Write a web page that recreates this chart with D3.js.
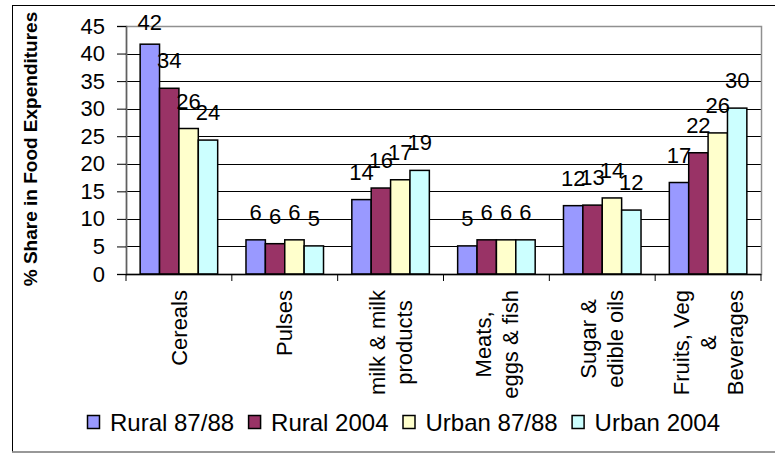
<!DOCTYPE html>
<html lang="en">
<head>
  <meta charset="UTF-8" />
  <title>Share in Food Expenditures</title>
  <script src="https://d3js.org/d3.v7.min.js"></script>
  <style>
    body {
      margin: 0;
      background: #fff;
      font-family: "Liberation Sans", Arial, sans-serif;
    }
    svg text {
      fill: #000;
    }
  </style>
</head>
<body>
  <svg id="chart" width="775" height="458"></svg>

  <script>
    // categories (each entry = lines of the rotated label)
    const categories = [
      ["Cereals"],
      ["Pulses"],
      ["milk & milk", "products"],
      ["Meats,", "eggs & fish"],
      ["Sugar &", "edible oils"],
      ["Fruits, Veg", "&", "Beverages"]
    ];
    const seriesNames = ["Rural 87/88", "Rural 2004", "Urban 87/88", "Urban 2004"];
    const seriesColors = ["#9999ff", "#993366", "#ffffcc", "#ccffff"];

    // values per series, in category order
    const rural8788 = [41.7, 6.2, 13.5, 5.1, 12.4, 16.6];
    const rural2004 = [33.7, 5.5, 15.6, 6.2, 12.5, 22.0];
    const urban8788 = [26.4, 6.2, 17.1, 6.2, 13.8, 25.6];
    const urban2004 = [24.3, 5.1, 18.8, 6.2, 11.6, 30.1];
    const seriesValues = [rural8788, rural2004, urban8788, urban2004];

    const yTicks = [0, 5, 10, 15, 20, 25, 30, 35, 40, 45];

    const svg = d3.select("#chart");
    const plot = { left: 126, right: 761, top: 26, bottom: 274 };

    // outer chart border
    svg.append("rect")
      .attr("x", 12.5).attr("y", 5.5)
      .attr("width", 775).attr("height", 446.5)
      .attr("fill", "#fff")
      .attr("stroke", "#000").attr("stroke-width", 1);
    svg.append("line")
      .attr("x1", 12).attr("x2", 775)
      .attr("y1", 452).attr("y2", 452)
      .attr("stroke", "#a0a0a0").attr("stroke-width", 1.5);

    const catKeys = categories.map(d => d.join(" "));
    const x0 = d3.scaleBand().domain(catKeys).range([plot.left, plot.right]);
    const x1 = d3.scaleBand().domain(seriesNames)
      .range([0, x0.bandwidth()])
      .paddingInner(0).paddingOuter(0.73);
    const y = d3.scaleLinear().domain([0, 45]).range([plot.bottom, plot.top]);

    // gridlines
    svg.append("g")
      .selectAll("line")
      .data(yTicks.filter(t => t > 0 && t < 45))
      .join("line")
      .attr("x1", plot.left).attr("x2", plot.right)
      .attr("y1", d => Math.round(y(d)) + 0.5).attr("y2", d => Math.round(y(d)) + 0.5)
      .attr("stroke", "#000").attr("stroke-width", 1);

    // plot area border
    svg.append("rect")
      .attr("x", plot.left + 0.5).attr("y", plot.top + 0.5)
      .attr("width", plot.right - plot.left).attr("height", plot.bottom - plot.top)
      .attr("fill", "none").attr("stroke", "#909090").attr("stroke-width", 1.5);

    // bars
    const groups = svg.append("g")
      .selectAll("g")
      .data(catKeys)
      .join("g")
      .attr("transform", d => `translate(${x0(d)},0)`);

    groups.selectAll("rect")
      .data((d, i) => seriesNames.map((s, j) => ({ s, j, v: seriesValues[j][i] })))
      .join("rect")
      .attr("x", d => x1(d.s))
      .attr("y", d => y(d.v))
      .attr("width", x1.bandwidth())
      .attr("height", d => y(0) - y(d.v))
      .attr("fill", d => seriesColors[d.j])
      .attr("stroke", "#000").attr("stroke-width", 1.5);

    // data labels
    groups.selectAll("text.val")
      .data((d, i) => seriesNames.map((s, j) => ({ s, j, v: seriesValues[j][i] })))
      .join("text")
      .attr("class", "val")
      .attr("x", d => x1(d.s) + x1.bandwidth() / 2)
      .attr("y", d => Math.max(y(d.v) - 20, 30))
      .attr("text-anchor", "middle")
      .attr("font-size", 22)
      .text(d => Math.round(d.v));

    // y axis
    const yAxis = svg.append("g")
      .attr("transform", `translate(${plot.left},0)`)
      .call(d3.axisLeft(y).tickValues(yTicks).tickSize(9).tickPadding(12));
    yAxis.select(".domain").attr("stroke", "#606060").attr("stroke-width", 1.5);
    yAxis.selectAll(".tick line").attr("stroke", "#000");
    yAxis.selectAll(".tick text")
      .attr("font-size", 22)
      .attr("font-family", "Liberation Sans, Arial, sans-serif")
      .attr("fill", "#000");

    // x axis line and category boundary ticks
    svg.append("line")
      .attr("x1", plot.left).attr("x2", plot.right)
      .attr("y1", plot.bottom + 0.5).attr("y2", plot.bottom + 0.5)
      .attr("stroke", "#000").attr("stroke-width", 1.5);
    svg.append("g")
      .selectAll("line")
      .data(catKeys.map(k => x0(k)).concat([plot.right]))
      .join("line")
      .attr("x1", d => d).attr("x2", d => d)
      .attr("y1", plot.bottom).attr("y2", plot.bottom + 7)
      .attr("stroke", "#000").attr("stroke-width", 1);

    // rotated category labels
    const lineGap = 27;
    const labelTop = 290;
    categories.forEach((lines, i) => {
      const cx = x0(catKeys[i]) + x0.bandwidth() / 2;
      const g = svg.append("g");
      const texts = lines.map((ln, k) => {
        const off = (k - (lines.length - 1) / 2) * lineGap;
        return g.append("text")
          .attr("font-size", 22)
          .attr("text-anchor", "middle")
          .attr("dy", "0.35em")
          .attr("data-off", off)
          .text(ln);
      });
      const maxLen = d3.max(texts, t => t.node().getComputedTextLength());
      const cy = labelTop + maxLen / 2;
      texts.forEach(t => {
        const off = +t.attr("data-off");
        t.attr("transform", `translate(${cx + off},${cy}) rotate(-90)`);
      });
    });

    // y axis title
    svg.append("text")
      .attr("transform", "translate(37,149) rotate(-90)")
      .attr("text-anchor", "middle")
      .attr("font-size", 19)
      .attr("font-weight", "bold")
      .text("% Share in Food Expenditures");

    // legend
    const legend = svg.append("g").attr("transform", "translate(87,423)");
    let lx = 0;
    seriesNames.forEach((name, i) => {
      legend.append("rect")
        .attr("x", lx + 0.5).attr("y", -7.5)
        .attr("width", 12).attr("height", 13)
        .attr("fill", seriesColors[i])
        .attr("stroke", "#000").attr("stroke-width", 1.5);
      const t = legend.append("text")
        .attr("x", lx + 23).attr("y", 0)
        .attr("dy", "0.35em")
        .attr("font-size", 24)
        .text(name);
      lx += 23 + t.node().getComputedTextLength() + 14;
    });
  </script>
</body>
</html>
